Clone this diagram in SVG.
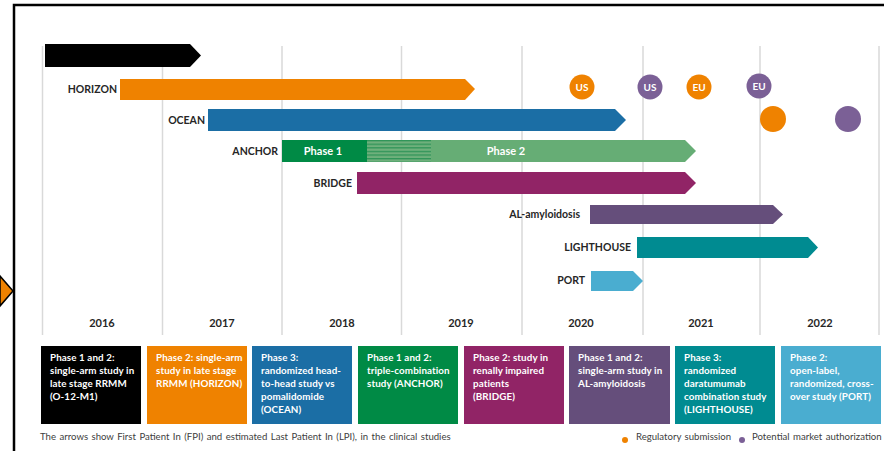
<svg xmlns="http://www.w3.org/2000/svg" width="884" height="451" viewBox="0 0 884 451">
<defs>
<style>
.grid{stroke:#d9d9d9;stroke-width:1.5}
.lbl{font-family:Lato,"Liberation Sans",sans-serif;font-weight:bold;font-size:10.5px;fill:#262626;text-anchor:end}
.yr{font-family:Lato,"Liberation Sans",sans-serif;font-weight:bold;font-size:11px;fill:#262626;text-anchor:middle}
.in{font-family:Lato,"Liberation Sans",sans-serif;font-weight:bold;font-size:11px;fill:#ffffff;text-anchor:middle}
.ct{font-family:Lato,"Liberation Sans",sans-serif;font-weight:bold;font-size:10px;fill:#ffffff;text-anchor:middle}
.bx{font-family:Lato,"Liberation Sans",sans-serif;font-weight:bold;font-size:9.8px;letter-spacing:0.1px;fill:#ffffff}
.ft{font-family:Lato,"Liberation Sans",sans-serif;font-size:9.6px;word-spacing:1px;fill:#404040}
</style>
<pattern id="hatch" patternUnits="userSpaceOnUse" width="8" height="3.6" y="140">
<rect width="8" height="3.6" fill="#6fb07c"/>
<rect width="8" height="1.3" fill="#2f9458"/>
</pattern>
</defs>
<rect width="884" height="451" fill="#ffffff"/>
<path d="M14,451 V5 H884" fill="none" stroke="#000" stroke-width="2.5"/>
<polygon points="0,276 13,291 0,306" fill="#ef8200" stroke="#000" stroke-width="1.5"/>
<g id="grid">
<line class="grid" x1="42.5" y1="46" x2="42.5" y2="335"/>
<line class="grid" x1="162.5" y1="46" x2="162.5" y2="335"/>
<line class="grid" x1="282" y1="46" x2="282" y2="335"/>
<line class="grid" x1="401.5" y1="46" x2="401.5" y2="335"/>
<line class="grid" x1="522" y1="46" x2="522" y2="335"/>
<line class="grid" x1="643" y1="46" x2="643" y2="335"/>
<line class="grid" x1="760" y1="46" x2="760" y2="335"/>
<line class="grid" x1="879" y1="46" x2="879" y2="335"/>
</g>
<g id="years">
<text class="yr" x="102" y="327">2016</text>
<text class="yr" x="222" y="327">2017</text>
<text class="yr" x="342" y="327">2018</text>
<text class="yr" x="461" y="327">2019</text>
<text class="yr" x="581" y="327">2020</text>
<text class="yr" x="701" y="327">2021</text>
<text class="yr" x="820" y="327">2022</text>
</g>
<g id="o12m1"><polygon points="45,44 190,44 201,55.5 190,67 45,67" fill="#000"/></g>
<g id="horizon">
<text class="lbl" x="117" y="93">HORIZON</text>
<polygon points="120,79 465,79 475,89 465,100 120,100" fill="#ef8200"/>
</g>
<g id="ocean">
<text class="lbl" x="205" y="124">OCEAN</text>
<polygon points="208,109 615,109 626,120 615,131 208,131" fill="#1b6ea5"/>
</g>
<g id="anchor">
<text class="lbl" x="278" y="155">ANCHOR</text>
<polygon points="431,140 685,140 696,151 685,162 431,162" fill="#66ad75"/>
<rect x="282" y="140" width="85" height="22" fill="#008a45"/>
<rect x="367" y="140" width="64" height="22" fill="url(#hatch)"/>
<text class="in" x="323" y="155">Phase 1</text>
<text class="in" x="506" y="155">Phase 2</text>
</g>
<g id="bridge">
<text class="lbl" x="352" y="187">BRIDGE</text>
<polygon points="357,172 685,172 696,183 685,194 357,194" fill="#912466"/>
</g>
<g id="al">
<text class="lbl" x="580" y="218">AL-amyloidosis</text>
<polygon points="590,205 773,205 783,214.5 773,224 590,224" fill="#654e7b"/>
</g>
<g id="lighthouse">
<text class="lbl" x="631" y="251">LIGHTHOUSE</text>
<polygon points="637,237 808,237 818,247.5 808,258 637,258" fill="#008b91"/>
</g>
<g id="port">
<text class="lbl" x="585" y="284">PORT</text>
<polygon points="591,271 633,271 643,281 633,291 591,291" fill="#4aadd0"/>
</g>
<g id="milestones">
<circle cx="582" cy="87" r="12.5" fill="#ef8200"/><text class="ct" x="582" y="90.5">US</text>
<circle cx="650" cy="87" r="12.5" fill="#7b6096"/><text class="ct" x="650" y="90.5">US</text>
<circle cx="699" cy="87" r="12.5" fill="#ef8200"/><text class="ct" x="699" y="90.5">EU</text>
<circle cx="759" cy="86" r="12.5" fill="#7b6096"/><text class="ct" x="759" y="89.5">EU</text>
<circle cx="773" cy="119" r="13" fill="#ef8200"/>
<circle cx="848" cy="119" r="13" fill="#7b6096"/>
</g>
<g id="box1"><rect x="41" y="346" width="100" height="78" fill="#000"/>
<text class="bx" x="50" y="361">Phase 1 and 2:</text><text class="bx" x="50" y="374">single-arm study in</text><text class="bx" x="50" y="387">late stage RRMM</text><text class="bx" x="50" y="400">(O-12-M1)</text></g>
<g id="box2"><rect x="147" y="346" width="100" height="78" fill="#ef8200"/>
<text class="bx" x="156" y="361">Phase 2: single-arm</text><text class="bx" x="156" y="374">study in late stage</text><text class="bx" x="156" y="387">RRMM (HORIZON)</text></g>
<g id="box3"><rect x="252" y="346" width="100" height="78" fill="#1b6ea5"/>
<text class="bx" x="261" y="361">Phase 3:</text><text class="bx" x="261" y="374">randomized head-</text><text class="bx" x="261" y="387">to-head study vs</text><text class="bx" x="261" y="400">pomalidomide</text><text class="bx" x="261" y="413">(OCEAN)</text></g>
<g id="box4"><rect x="358" y="346" width="100" height="78" fill="#008a45"/>
<text class="bx" x="367" y="361">Phase 1 and 2:</text><text class="bx" x="367" y="374">triple-combination</text><text class="bx" x="367" y="387">study (ANCHOR)</text></g>
<g id="box5"><rect x="464" y="346" width="100" height="78" fill="#912466"/>
<text class="bx" x="473" y="361">Phase 2: study in</text><text class="bx" x="473" y="374">renally impaired</text><text class="bx" x="473" y="387">patients</text><text class="bx" x="473" y="400">(BRIDGE)</text></g>
<g id="box6"><rect x="569" y="346" width="101" height="78" fill="#654e7b"/>
<text class="bx" x="578" y="361">Phase 1 and 2:</text><text class="bx" x="578" y="374">single-arm study in</text><text class="bx" x="578" y="387">AL-amyloidosis</text></g>
<g id="box7"><rect x="675" y="346" width="100" height="78" fill="#008b91"/>
<text class="bx" x="684" y="361">Phase 3:</text><text class="bx" x="684" y="374">randomized</text><text class="bx" x="684" y="387">daratumumab</text><text class="bx" x="684" y="400">combination study</text><text class="bx" x="684" y="413">(LIGHTHOUSE)</text></g>
<g id="box8"><rect x="781" y="346" width="100" height="78" fill="#4aadd0"/>
<text class="bx" x="790" y="361">Phase 2:</text><text class="bx" x="790" y="374">open-label,</text><text class="bx" x="790" y="387">randomized, cross-</text><text class="bx" x="790" y="400">over study (PORT)</text></g>
<g id="footer">
<text class="ft" x="40" y="440">The arrows show First Patient In (FPI) and estimated Last Patient In (LPI), in the clinical studies</text>
<circle cx="625" cy="440" r="3" fill="#ef8200"/>
<text class="ft" x="636" y="440">Regulatory submission</text>
<circle cx="742" cy="440" r="3" fill="#7b6096"/>
<text class="ft" x="752" y="440">Potential market authorization</text>
</g>
</svg>
